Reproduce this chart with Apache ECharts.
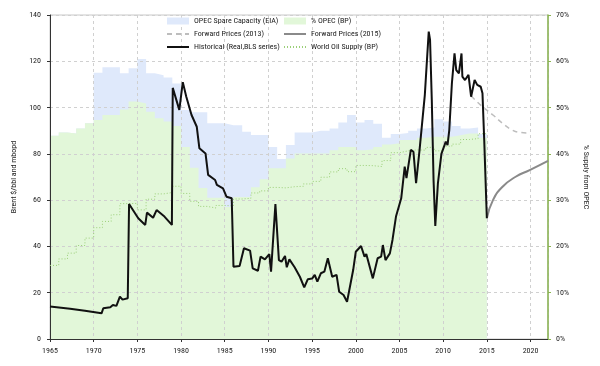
<!DOCTYPE html>
<html>
<head>
<meta charset="utf-8">
<script src="https://cdn.jsdelivr.net/npm/echarts@6/dist/echarts.min.js"></script>
<style>html,body{margin:0;padding:0;background:#fff}#c{width:600px;height:366px}</style>
</head>
<body>
<div id="c"></div>
<script>
// ---- data ----
const years = [1965,1966,1967,1968,1969,1970,1971,1972,1973,1974,1975,1976,1977,1978,1979,1980,1981,1982,1983,1984,1985,1986,1987,1988,1989,1990,1991,1992,1993,1994,1995,1996,1997,1998,1999,2000,2001,2002,2003,2004,2005,2006,2007,2008,2009,2010,2011,2012,2013,2014];
// % of world supply from OPEC (BP), right axis
const pctOpec = [43.9,44.6,44.4,45.5,46.6,47.3,48.4,48.4,49.6,51.3,50.9,49.1,47.7,47.0,46.0,41.5,37.0,32.6,30.5,30.5,28.5,30.7,30.7,32.8,34.5,36.9,36.9,39.0,40.1,40.1,40.1,40.1,40.8,41.5,41.5,40.8,41.0,41.5,42.0,42.3,43.0,43.0,43.5,43.7,43.7,43.7,44.0,44.4,44.4,43.5];
// OPEC spare capacity (EIA), shown on top of % OPEC, right-axis units
const spareCap = [0,0,0,0,0,10.2,10.3,10.3,7.8,7.2,9.6,8.3,9.3,9.5,9.2,8.0,12.0,16.4,16.1,16.1,17.7,15.5,14.1,11.3,9.6,4.6,2.0,2.9,4.5,4.5,4.9,4.9,4.7,5.3,6.9,6.0,6.3,5.0,1.5,2.0,1.5,2.0,2.0,2.0,3.8,3.3,2.0,1.1,1.3,0.8];
// World oil supply (BP), mbopd
const worldSupply = [31.8,34.6,37.1,40.4,43.6,48.1,50.8,53.7,58.5,58.6,55.8,60.4,62.7,63.3,66.0,62.9,59.5,57.3,56.6,57.7,57.5,60.5,60.8,63.1,64.0,65.5,65.3,65.8,66.0,67.0,68.1,69.9,72.2,73.6,72.3,75.0,74.9,74.5,77.1,80.5,81.3,81.7,81.6,82.8,81.3,83.3,84.2,86.2,86.6,88.7];
// Historical Brent (real, BLS series)
const priceTimes = [1965.0,1967.3,1969.0,1970.9,1971.1,1971.9,1972.2,1972.6,1973.0,1973.3,1973.9,1974.05,1975.1,1975.9,1976.1,1976.8,1977.2,1978.1,1978.95,1979.05,1979.8,1980.2,1980.6,1981.2,1981.8,1982.1,1982.8,1983.1,1983.9,1984.1,1984.8,1985.2,1985.8,1986.0,1986.7,1986.9,1987.2,1987.9,1988.2,1988.8,1989.1,1989.6,1989.8,1990.1,1990.3,1990.8,1991.2,1991.5,1991.9,1992.1,1992.4,1993.0,1993.6,1994.1,1994.5,1995.0,1995.3,1995.6,1996.0,1996.4,1996.8,1997.3,1997.8,1998.1,1998.6,1999.0,1999.7,2000.0,2000.6,2001.0,2001.2,2001.95,2002.5,2002.9,2003.1,2003.4,2003.9,2004.2,2004.6,2005.2,2005.6,2005.8,2006.3,2006.6,2006.9,2007.3,2007.9,2008.1,2008.35,2008.5,2008.7,2008.9,2009.1,2009.4,2009.8,2010.3,2010.5,2010.7,2011.0,2011.3,2011.5,2011.8,2012.1,2012.2,2012.5,2012.9,2013.2,2013.6,2013.9,2014.3,2014.5,2014.7,2015.0];
const priceValues = [14.0,13.1,12.2,11.1,13.3,13.7,14.7,14.3,18.3,17.0,17.6,58.3,52.2,49.3,54.6,52.4,55.7,52.9,49.3,108.5,99.0,111.0,104.7,96.8,91.7,82.4,80.2,70.9,68.7,66.6,65.1,61.5,60.8,31.2,31.5,31.0,39.2,38.2,30.5,29.5,35.6,34.4,34.9,36.7,29.1,58.3,34.1,33.4,35.9,31.0,34.4,31.0,26.9,22.3,25.8,26.1,27.7,24.8,28.4,29.1,34.9,26.9,27.7,20.4,19.0,16.1,29.8,37.7,40.2,35.6,36.7,26.2,34.9,35.6,40.6,34.1,37.0,42.8,52.9,60.8,74.5,69.5,81.7,80.9,67.3,81.7,105.4,117.7,132.8,129.2,103.3,68.7,48.8,67.3,80.0,85.3,83.8,90.3,110.5,123.4,116.2,114.8,123.4,113.4,111.9,114.1,104.7,111.9,109.8,109.0,106.2,86.0,52.2];
// Forward prices
const fwd2013Times = [2013.2,2014.5,2015.7,2016.8,2017.9,2018.9,2019.7];
const fwd2013Values = [105.0,100.4,96.8,93.2,90.3,89.2,89.0];
const fwd2015Times = [2015.0,2015.7,2016.8,2018.3,2019.9,2022.0];
const fwd2015Values = [52.2,60.0,65.8,70.1,73.0,77.0];

// ---- build ----
const capacityTop = pctOpec.map((v, i) => v + spareCap[i]);
const stepData = vals => years.map((y, i) => [y, vals[i]]).concat([[years[years.length - 1] + 1, vals[vals.length - 1]]]);
const pairs = (t, v) => t.map((x, i) => [x, v[i]]);

const FONT = "'Roboto Condensed','Liberation Sans',sans-serif";
const GREEN = '#e2f7d9', BLUE = '#dfe9fb';
const TXT = '#222';

const legendBase = {top: 17, orient: 'vertical', padding: 0, itemGap: 5, itemWidth: 22, itemHeight: 7,
  itemStyle: {opacity: 0}, textStyle: {fontFamily: FONT, fontSize: 8, color: TXT}};

const chart = echarts.init(document.getElementById('c'), null, {renderer: 'canvas'});
chart.setOption({
  animation: false,
  textStyle: {fontFamily: FONT, color: TXT},
  grid: {left: 50, right: 52, top: 15, bottom: 27, show: true, borderColor: '#c8c8c8', borderWidth: 1, backgroundColor: 'transparent'},
  legend: [
    Object.assign({}, legendBase, {left: 166,
      data: [{name: 'OPEC Spare Capacity (EIA)', icon: 'rect', itemStyle: {opacity: 1, color: BLUE}}, 'Forward Prices (2013)', 'Historical (Real,BLS series)']}),
    Object.assign({}, legendBase, {left: 283,
      data: [{name: '% OPEC (BP)', icon: 'rect', itemStyle: {opacity: 1, color: GREEN}}, 'Forward Prices (2015)', 'World Oil Supply (BP)']})
  ],
  xAxis: {
    type: 'value', min: 1965, max: 2022, interval: 5, z: 2,
    axisLine: {lineStyle: {color: '#333', width: 1}},
    axisTick: {show: true, length: 3, lineStyle: {color: '#333'}},
    axisLabel: {fontFamily: FONT, fontSize: 8, color: TXT, margin: 8, showMaxLabel: false,
      formatter: v => (v % 5 === 0 ? String(v) : '')},
    splitLine: {show: true, lineStyle: {color: '#d0d0d0', type: [3, 3]}}
  },
  yAxis: [
    {type: 'value', min: 0, max: 140, interval: 20, z: 2,
     name: 'Brent $/bbl and mbopd', nameLocation: 'middle', nameGap: 29,
     nameTextStyle: {fontFamily: FONT, fontSize: 8, color: TXT},
     axisLine: {show: true, lineStyle: {color: '#333', width: 1}},
     axisTick: {show: true, length: 3, lineStyle: {color: '#333'}},
     axisLabel: {fontFamily: FONT, fontSize: 8, color: TXT, margin: 9},
     splitLine: {show: true, lineStyle: {color: '#d0d0d0', type: [3, 3]}}},
    {type: 'value', min: 0, max: 70, interval: 10, z: 2, position: 'right',
     name: '% Supply from OPEC', nameLocation: 'middle', nameGap: 34, nameRotate: -90,
     nameTextStyle: {fontFamily: FONT, fontSize: 8, color: TXT},
     axisLine: {show: true, lineStyle: {color: '#8ab550', width: 1.5}},
     axisTick: {show: true, length: 3, lineStyle: {color: '#8ab550'}},
     axisLabel: {fontFamily: FONT, fontSize: 8, color: TXT, margin: 8, formatter: '{value}%'},
     splitLine: {show: false}}
  ],
  series: [
    {name: 'OPEC Spare Capacity (EIA)', type: 'line', yAxisIndex: 1, step: 'end', symbol: 'none', z: 1,
     data: stepData(capacityTop), itemStyle: {color: BLUE}, lineStyle: {width: 0, color: BLUE},
     areaStyle: {color: BLUE, opacity: 1}},
    {name: '% OPEC (BP)', type: 'line', yAxisIndex: 1, step: 'end', symbol: 'none', z: 1,
     data: stepData(pctOpec), itemStyle: {color: GREEN}, lineStyle: {width: 0, color: GREEN},
     areaStyle: {color: GREEN, opacity: 1}},
    {name: 'World Oil Supply (BP)', type: 'line', yAxisIndex: 0, step: 'end', symbol: 'none', z: 3,
     data: stepData(worldSupply), itemStyle: {color: '#9bcf78'}, lineStyle: {color: '#9bcf78', width: 1, type: [1, 2]}},
    {name: 'Forward Prices (2013)', type: 'line', yAxisIndex: 0, smooth: true, symbol: 'none', z: 3,
     data: pairs(fwd2013Times, fwd2013Values), itemStyle: {color: '#bdbdbd'}, lineStyle: {color: '#bdbdbd', width: 1.5, type: [5, 4]}},
    {name: 'Forward Prices (2015)', type: 'line', yAxisIndex: 0, smooth: true, symbol: 'none', z: 3,
     data: pairs(fwd2015Times, fwd2015Values), itemStyle: {color: '#8a8a8a'}, lineStyle: {color: '#8a8a8a', width: 2}},
    {name: 'Historical (Real,BLS series)', type: 'line', yAxisIndex: 0, symbol: 'none', z: 4,
     data: pairs(priceTimes, priceValues), itemStyle: {color: '#111'}, lineStyle: {color: '#111', width: 2}}
  ]
});
</script>
</body>
</html>
